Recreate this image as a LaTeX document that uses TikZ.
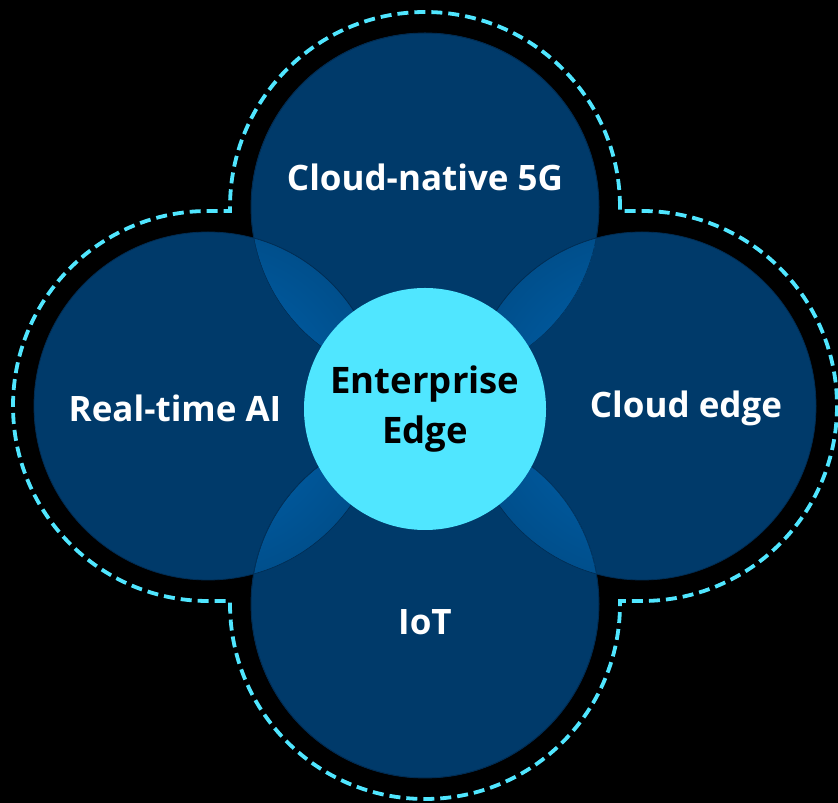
\documentclass[tikz,border=0pt]{standalone}
\usepackage{fontspec}
\setmainfont{Open Sans}
\definecolor{deepblue}{HTML}{003A6A}
\definecolor{rimblue}{HTML}{002C52}
\definecolor{lensdark}{HTML}{004F8C}
\definecolor{lenslight}{HTML}{0066B4}
\definecolor{edgecyan}{HTML}{50E6FF}
\tikzset{
  area/.style={circle,fill=deepblue,draw=rimblue,line width=0.8pt,minimum size=348pt,inner sep=0pt},
  hub/.style={circle,fill=edgecyan,minimum size=242pt,inner sep=0pt,align=center,
    font=\fontsize{36.5}{50}\selectfont\bfseries,text=black},
  tag/.style={font=\fontsize{35}{40}\selectfont\bfseries,text=white},
  outline/.style={edgecyan,line width=3.8pt,dash pattern=on 11pt off 6pt}
}
\begin{document}
\begin{tikzpicture}[x=1pt,y=1pt]
      \fill[black] (0,0) rectangle (838,803);
      \useasboundingbox (0,0) rectangle (838,803);
      \node[area] (5g) at (425,596) {};
      \node[area] (ai) at (208,397) {};
      \node[area] (cloud) at (642,397) {};
      \node[area] (iot) at (425,199) {};
      % overlaps
      \foreach \a/\b in {5g/ai,5g/cloud,iot/ai,iot/cloud} {
        \begin{scope}
          \clip (\a.center) circle[radius=174];
          \shade[inner color=lenslight,outer color=lensdark] (\b.center) circle[radius=174];
          \draw[rimblue,line width=0.6pt] (\b.center) circle[radius=174];
          \draw[rimblue,line width=0.6pt] (\a.center) circle[radius=174];
        \end{scope}
      }
      \node[hub] (ent) at (425,394) {Enterprise\\Edge};
      \node[tag] (t5g) at (425,626) {Cloud-native 5G};
      \node[tag] (tai) at (175,395) {Real-time AI};
      \node[tag] (tcloud) at (686,395) {Cloud edge};
      \node[tag] (tiot) at (425,181) {IoT};
      \draw[outline]
        (620,596) arc[start angle=0,end angle=180,radius=195]
        -- (230,592) -- (208,592) arc[start angle=90,end angle=270,radius=195]
        -- (230,202) -- (230,199) arc[start angle=180,end angle=360,radius=195]
        -- (620,202) -- (642,202) arc[start angle=-90,end angle=90,radius=195]
        -- (620,592) -- cycle;
    \end{tikzpicture}
\end{document}
